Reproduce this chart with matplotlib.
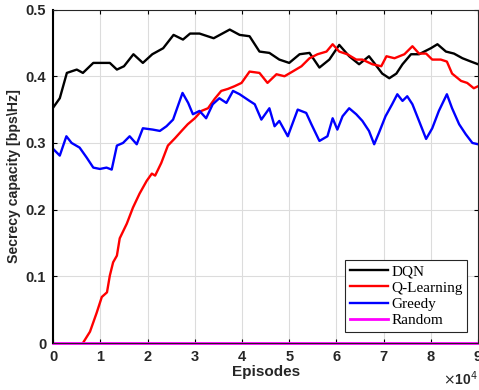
import numpy as np
import matplotlib.pyplot as plt
from matplotlib.ticker import FixedLocator, FuncFormatter

# episodes are given in units of 1e4
dqn_x = [0.0, 0.14, 0.29, 0.5, 0.63, 0.85, 1.0, 1.2, 1.35, 1.5, 1.7, 1.9, 2.1, 2.33,
         2.55, 2.75, 2.9, 3.1, 3.4, 3.74, 3.95, 4.16, 4.37, 4.58, 4.79, 5.0, 5.22,
         5.43, 5.64, 5.85, 6.06, 6.27, 6.48, 6.69, 6.8, 6.97, 7.12, 7.27, 7.4, 7.58,
         7.75, 8.0, 8.14, 8.32, 8.49, 8.67, 8.85, 9.0]
dqn_y = [0.353, 0.367, 0.405, 0.41, 0.405, 0.42, 0.42, 0.42, 0.41, 0.415, 0.433, 0.42,
         0.433, 0.442, 0.462, 0.455, 0.464, 0.464, 0.457, 0.47, 0.462, 0.46, 0.437,
         0.435, 0.425, 0.42, 0.433, 0.435, 0.413, 0.425, 0.447, 0.43, 0.418, 0.43,
         0.42, 0.404, 0.397, 0.404, 0.418, 0.433, 0.433, 0.442, 0.448, 0.437, 0.434,
         0.427, 0.422, 0.418]

ql_x = [0.63, 0.78, 0.92, 1.03, 1.14, 1.2, 1.27, 1.35, 1.41, 1.56, 1.69, 1.83, 1.98,
        2.09, 2.16, 2.29, 2.43, 2.58, 2.72, 2.85, 3.0, 3.14, 3.28, 3.42, 3.56, 3.7,
        3.84, 3.99, 4.16, 4.37, 4.54, 4.73, 4.9, 5.07, 5.26, 5.43, 5.6, 5.79, 5.92,
        6.06, 6.23, 6.42, 6.55, 6.76, 6.95, 7.06, 7.23, 7.44, 7.61, 7.75, 7.9, 8.03,
        8.21, 8.34, 8.45, 8.64, 8.77, 8.91, 9.0]
ql_y = [0.0, 0.017, 0.045, 0.069, 0.076, 0.101, 0.121, 0.131, 0.157, 0.179, 0.203,
        0.224, 0.243, 0.254, 0.251, 0.27, 0.296, 0.307, 0.318, 0.328, 0.337, 0.348,
        0.352, 0.366, 0.378, 0.381, 0.385, 0.39, 0.407, 0.405, 0.39, 0.403, 0.4, 0.407,
        0.415, 0.427, 0.433, 0.437, 0.448, 0.437, 0.433, 0.425, 0.425, 0.418, 0.415,
        0.43, 0.427, 0.433, 0.445, 0.434, 0.434, 0.425, 0.425, 0.422, 0.404, 0.393,
        0.39, 0.382, 0.385]

gr_x = [0.0, 0.14, 0.28, 0.39, 0.56, 0.71, 0.85, 0.99, 1.13, 1.24, 1.35, 1.48, 1.62,
        1.77, 1.9, 2.11, 2.26, 2.4, 2.54, 2.74, 2.86, 2.96, 3.1, 3.24, 3.38, 3.52,
        3.67, 3.81, 3.95, 4.16, 4.27, 4.41, 4.58, 4.69, 4.79, 4.97, 5.18, 5.36, 5.47,
        5.64, 5.81, 5.92, 6.02, 6.13, 6.27, 6.42, 6.55, 6.69, 6.8, 6.9, 7.04, 7.18,
        7.29, 7.4, 7.5, 7.61, 7.75, 7.9, 8.03, 8.17, 8.34, 8.45, 8.6, 8.74, 8.88, 9.0]
gr_y = [0.291, 0.281, 0.31, 0.3, 0.293, 0.278, 0.263, 0.261, 0.263, 0.26, 0.296, 0.3,
        0.31, 0.298, 0.322, 0.32, 0.318, 0.325, 0.335, 0.375, 0.36, 0.343, 0.348,
        0.337, 0.358, 0.367, 0.36, 0.378, 0.373, 0.363, 0.358, 0.335, 0.352, 0.325,
        0.333, 0.31, 0.35, 0.345, 0.328, 0.303, 0.31, 0.337, 0.32, 0.34, 0.352, 0.343,
        0.333, 0.318, 0.298, 0.315, 0.34, 0.358, 0.373, 0.363, 0.37, 0.358, 0.333,
        0.306, 0.322, 0.348, 0.373, 0.352, 0.328, 0.313, 0.3, 0.298]

rnd_x = [0.0, 9.0]
rnd_y = [0.0, 0.0]

fig = plt.figure(figsize=(4.79, 3.90), dpi=100)
ax = fig.add_axes([0.111, 0.1205, 0.887, 0.855])

ax.plot(np.array(dqn_x) * 1e4, dqn_y, color='black', lw=1.7, label='DQN')
ax.plot(np.array(ql_x) * 1e4, ql_y, color='red', lw=1.7, label='Q-Learning')
ax.plot(np.array(gr_x) * 1e4, gr_y, color='blue', lw=1.7, label='Greedy')
ax.plot(np.array(rnd_x) * 1e4, rnd_y, color='magenta', lw=2, label='Random', clip_on=False)

ax.set_xlim(0, 9e4)
ax.set_ylim(0, 0.5)
ax.xaxis.set_major_locator(FixedLocator(np.arange(0, 10) * 1e4))
ax.xaxis.set_major_formatter(FuncFormatter(lambda v, p: '%d' % round(v / 1e4)))
ax.set_yticks([0, 0.1, 0.2, 0.3, 0.4, 0.5])
ax.set_yticklabels(['0', '0.1', '0.2', '0.3', '0.4', '0.5'])

ax.grid(True, color='#dcdcdc', lw=0.8)
ax.set_axisbelow(True)
ax.tick_params(direction='in', top=True, right=True, length=3, width=0.8,
               labelsize=10.5, pad=5)
for lab in ax.get_xticklabels() + ax.get_yticklabels():
    lab.set_fontweight('bold')
    lab.set_family('Liberation Sans')
    lab.set_color('#262626')
for s in ax.spines.values():
    s.set_color('#262626')
    s.set_linewidth(0.8)
ax.spines['left'].set_color('black')
ax.spines['left'].set_linewidth(1.5)

ax.set_xlabel('Episodes', fontsize=11, fontweight='bold', family='Liberation Sans',
              color='#262626', labelpad=1)
ax.set_ylabel('Secrecy capacity [bps\\Hz]', fontsize=10.2, fontweight='bold',
              family='Liberation Sans', color='#262626', labelpad=3)
ax.text(1.0, -0.126, r'$\times$10$^4$', transform=ax.transAxes, ha='right',
        va='baseline', fontsize=10, fontweight='bold', family='Liberation Sans',
        color='#262626')

leg = ax.legend(loc='lower right', bbox_to_anchor=(0.974, 0.033),
                prop={'family': 'Liberation Serif', 'size': 11},
                fancybox=False, framealpha=1, edgecolor='#262626',
                handlelength=2.5, handletextpad=0.2, borderpad=0.3,
                labelspacing=0.18, borderaxespad=0.0)
leg.get_frame().set_linewidth(0.8)

fig.savefig('out.png', dpi=100)
